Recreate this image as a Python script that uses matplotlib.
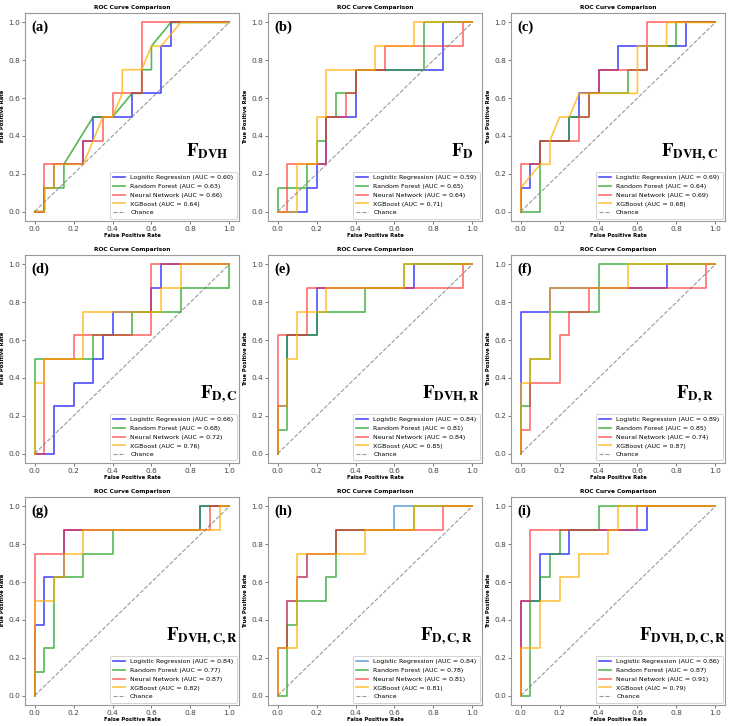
import matplotlib
matplotlib.use("Agg")
import matplotlib.pyplot as plt

plt.rcParams['mathtext.fontset'] = 'stix'

# ROC curves: (fpr, tpr) per model, per feature set
roc_a = {
    'lr': ([0, 0.05, 0.05, 0.1, 0.1, 0.25, 0.25, 0.3, 0.3, 0.5, 0.5, 0.65, 0.65, 0.7, 0.7, 1],
           [0, 0, 0.125, 0.125, 0.25, 0.25, 0.375, 0.375, 0.5, 0.5, 0.625, 0.625, 0.875, 0.875, 1, 1]),
    'rf': ([0, 0.05, 0.05, 0.15, 0.15, 0.3, 0.4, 0.5, 0.55, 0.55, 0.6, 0.6, 0.7, 1],
           [0, 0, 0.125, 0.125, 0.25, 0.5, 0.5, 0.625, 0.625, 0.75, 0.75, 0.875, 1, 1]),
    'nn': ([0, 0.05, 0.05, 0.25, 0.25, 0.35, 0.35, 0.4, 0.4, 0.55, 0.55, 1],
           [0, 0, 0.25, 0.25, 0.375, 0.375, 0.5, 0.5, 0.625, 0.625, 1, 1]),
    'xgb': ([0, 0.05, 0.05, 0.1, 0.1, 0.25, 0.35, 0.4, 0.45, 0.45, 0.55, 0.6, 0.65, 0.75, 1],
            [0, 0, 0.125, 0.125, 0.25, 0.25, 0.5, 0.5, 0.625, 0.75, 0.75, 0.875, 0.875, 1, 1]),
}
roc_b = {
    'lr': ([0, 0.15, 0.15, 0.2, 0.2, 0.25, 0.25, 0.4, 0.4, 0.85, 0.85, 1],
           [0, 0, 0.125, 0.125, 0.25, 0.25, 0.5, 0.5, 0.75, 0.75, 1, 1]),
    'rf': ([0, 0, 0.15, 0.15, 0.2, 0.2, 0.25, 0.25, 0.3, 0.3, 0.4, 0.4, 0.75, 0.75, 1],
           [0, 0.125, 0.125, 0.25, 0.25, 0.375, 0.375, 0.5, 0.5, 0.625, 0.625, 0.75, 0.75, 1, 1]),
    'nn': ([0, 0.05, 0.05, 0.25, 0.25, 0.35, 0.35, 0.4, 0.4, 0.55, 0.55, 0.95, 0.95, 1],
           [0, 0, 0.25, 0.25, 0.5, 0.5, 0.625, 0.625, 0.75, 0.75, 0.875, 0.875, 1, 1]),
    'xgb': ([0, 0.1, 0.1, 0.2, 0.2, 0.25, 0.25, 0.5, 0.5, 0.7, 0.7, 1],
            [0, 0, 0.25, 0.25, 0.5, 0.5, 0.75, 0.75, 0.875, 0.875, 1, 1]),
}
roc_c = {
    'lr': ([0, 0, 0.05, 0.05, 0.1, 0.1, 0.25, 0.25, 0.3, 0.3, 0.4, 0.4, 0.5, 0.5, 0.85, 0.85, 1],
           [0, 0.125, 0.125, 0.25, 0.25, 0.375, 0.375, 0.5, 0.5, 0.625, 0.625, 0.75, 0.75, 0.875, 0.875, 1, 1]),
    'rf': ([0, 0.1, 0.1, 0.25, 0.25, 0.35, 0.35, 0.55, 0.55, 0.65, 0.65, 0.8, 0.8, 1],
           [0, 0, 0.375, 0.375, 0.5, 0.5, 0.625, 0.625, 0.75, 0.75, 0.875, 0.875, 1, 1]),
    'nn': ([0, 0, 0.1, 0.1, 0.3, 0.3, 0.35, 0.35, 0.4, 0.4, 0.65, 0.65, 1],
           [0, 0.25, 0.25, 0.375, 0.375, 0.5, 0.5, 0.625, 0.625, 0.75, 0.75, 1, 1]),
    'xgb': ([0, 0, 0.1, 0.15, 0.15, 0.2, 0.25, 0.3, 0.6, 0.6, 0.75, 0.75, 1],
            [0, 0.125, 0.25, 0.25, 0.375, 0.5, 0.5, 0.625, 0.625, 0.875, 0.875, 1, 1]),
}
roc_d = {
    'lr': ([0, 0.1, 0.1, 0.2, 0.2, 0.3, 0.3, 0.35, 0.35, 0.4, 0.4, 0.6, 0.6, 0.65, 0.65, 1],
           [0, 0, 0.25, 0.25, 0.375, 0.375, 0.5, 0.5, 0.625, 0.625, 0.75, 0.75, 0.875, 0.875, 1, 1]),
    'rf': ([0, 0, 0.3, 0.3, 0.5, 0.5, 0.75, 0.75, 1, 1],
           [0, 0.5, 0.5, 0.625, 0.625, 0.75, 0.75, 0.875, 0.875, 1]),
    'nn': ([0, 0.05, 0.05, 0.2, 0.2, 0.6, 0.6, 1],
           [0, 0, 0.5, 0.5, 0.625, 0.625, 1, 1]),
    'xgb': ([0, 0, 0.05, 0.05, 0.25, 0.25, 0.65, 0.65, 0.75, 0.75, 1],
            [0, 0.375, 0.375, 0.5, 0.5, 0.75, 0.75, 0.875, 0.875, 1, 1]),
}
roc_e = {
    'lr': ([0, 0, 0.05, 0.05, 0.2, 0.2, 0.7, 0.7, 1],
           [0, 0.25, 0.25, 0.625, 0.625, 0.875, 0.875, 1, 1]),
    'rf': ([0, 0, 0.05, 0.05, 0.2, 0.2, 0.45, 0.45, 0.65, 0.65, 1],
           [0, 0.125, 0.125, 0.625, 0.625, 0.75, 0.75, 0.875, 0.875, 1, 1]),
    'nn': ([0, 0, 0.15, 0.15, 0.95, 0.95, 1],
           [0, 0.625, 0.625, 0.875, 0.875, 1, 1]),
    'xgb': ([0, 0, 0.05, 0.05, 0.1, 0.1, 0.25, 0.25, 0.65, 0.65, 1],
            [0, 0.25, 0.25, 0.5, 0.5, 0.75, 0.75, 0.875, 0.875, 1, 1]),
}
roc_f = {
    'lr': ([0, 0, 0.15, 0.15, 0.75, 0.75, 1],
           [0, 0.75, 0.75, 0.875, 0.875, 1, 1]),
    'rf': ([0, 0, 0.05, 0.05, 0.15, 0.15, 0.4, 0.4, 1],
           [0, 0.25, 0.25, 0.5, 0.5, 0.75, 0.75, 1, 1]),
    'nn': ([0, 0, 0.05, 0.05, 0.2, 0.2, 0.25, 0.25, 0.35, 0.35, 0.95, 0.95, 1],
           [0, 0.125, 0.125, 0.375, 0.375, 0.625, 0.625, 0.75, 0.75, 0.875, 0.875, 1, 1]),
    'xgb': ([0, 0, 0.05, 0.05, 0.15, 0.15, 0.55, 0.55, 1],
            [0, 0.375, 0.375, 0.5, 0.5, 0.875, 0.875, 1, 1]),
}
roc_g = {
    'lr': ([0, 0, 0.05, 0.05, 0.15, 0.15, 0.85, 0.85, 1],
           [0, 0.375, 0.375, 0.625, 0.625, 0.875, 0.875, 1, 1]),
    'rf': ([0, 0, 0.05, 0.05, 0.1, 0.1, 0.25, 0.25, 0.4, 0.4, 0.85, 0.85, 1],
           [0, 0.125, 0.125, 0.25, 0.25, 0.625, 0.625, 0.75, 0.75, 0.875, 0.875, 1, 1]),
    'nn': ([0, 0, 0.15, 0.15, 0.9, 0.9, 1],
           [0, 0.75, 0.75, 0.875, 0.875, 1, 1]),
    'xgb': ([0, 0, 0.1, 0.1, 0.15, 0.15, 0.25, 0.25, 0.95, 0.95, 1],
            [0, 0.5, 0.5, 0.625, 0.625, 0.75, 0.75, 0.875, 0.875, 1, 1]),
}
roc_h = {
    'lr': ([0, 0, 0.05, 0.05, 0.1, 0.1, 0.15, 0.15, 0.3, 0.3, 0.6, 0.6, 1],
           [0, 0.25, 0.25, 0.5, 0.5, 0.625, 0.625, 0.75, 0.75, 0.875, 0.875, 1, 1]),
    'rf': ([0, 0.05, 0.05, 0.1, 0.1, 0.25, 0.25, 0.3, 0.3, 0.7, 0.7, 1],
           [0, 0, 0.375, 0.375, 0.5, 0.5, 0.625, 0.625, 0.875, 0.875, 1, 1]),
    'nn': ([0, 0, 0.05, 0.05, 0.1, 0.1, 0.15, 0.15, 0.3, 0.3, 0.85, 0.85, 1],
           [0, 0.25, 0.25, 0.5, 0.5, 0.625, 0.625, 0.75, 0.75, 0.875, 0.875, 1, 1]),
    'xgb': ([0, 0, 0.1, 0.1, 0.45, 0.45, 0.7, 0.7, 1],
            [0, 0.25, 0.25, 0.75, 0.75, 0.875, 0.875, 1, 1]),
}
roc_i = {
    'lr': ([0, 0, 0.1, 0.1, 0.25, 0.25, 0.65, 0.65, 1],
           [0, 0.5, 0.5, 0.75, 0.75, 0.875, 0.875, 1, 1]),
    'rf': ([0, 0.05, 0.05, 0.1, 0.1, 0.15, 0.15, 0.2, 0.2, 0.4, 0.4, 1],
           [0, 0, 0.5, 0.5, 0.625, 0.625, 0.75, 0.75, 0.875, 0.875, 1, 1]),
    'nn': ([0, 0, 0.05, 0.05, 0.6, 0.6, 1],
           [0, 0.5, 0.5, 0.875, 0.875, 1, 1]),
    'xgb': ([0, 0, 0.1, 0.1, 0.2, 0.2, 0.3, 0.3, 0.45, 0.45, 0.5, 0.5, 1],
            [0, 0.25, 0.25, 0.5, 0.5, 0.625, 0.625, 0.75, 0.75, 0.875, 0.875, 1, 1]),
}

model_keys = ['lr', 'rf', 'nn', 'xgb']
model_names = ['Logistic Regression', 'Random Forest', 'Neural Network', 'XGBoost']

panels = [roc_a, roc_b, roc_c, roc_d, roc_e, roc_f, roc_g, roc_h, roc_i]
auc_a = [0.60, 0.63, 0.66, 0.64]
auc_b = [0.59, 0.65, 0.64, 0.71]
auc_c = [0.69, 0.64, 0.69, 0.68]
auc_d = [0.66, 0.68, 0.72, 0.76]
auc_e = [0.84, 0.81, 0.84, 0.85]
auc_f = [0.89, 0.85, 0.74, 0.87]
auc_g = [0.84, 0.77, 0.87, 0.82]
auc_h = [0.84, 0.78, 0.81, 0.81]
auc_i = [0.86, 0.87, 0.91, 0.79]
aucs = [auc_a, auc_b, auc_c, auc_d, auc_e, auc_f, auc_g, auc_h, auc_i]
letters = ['(a)', '(b)', '(c)', '(d)', '(e)', '(f)', '(g)', '(h)', '(i)']
feature_sets = ['DVH', 'D', 'DVH,C', 'D,C', 'DVH,R', 'D,R', 'DVH,C,R', 'D,C,R', 'DVH,D,C,R']

# where the big F label starts (axes fraction)
label_x = [0.75, 0.855, 0.70, 0.82, 0.72, 0.77, 0.66, 0.71, 0.60]

colors = ['#2020ff', '#2aa52a', '#ff3030', '#ffb000']
alphas = [0.8, 0.8, 0.7, 0.75]

W, H = 729, 726
fig = plt.figure(figsize=(W / 100, H / 100), dpi=100)

col_left = [25, 268, 511]
row_top = [13, 255, 497]
ax_w, ax_h = 214, 208

for k in range(9):
    r, c = divmod(k, 3)
    ax = fig.add_axes([col_left[c] / W, 1 - (row_top[r] + ax_h) / H, ax_w / W, ax_h / H])
    roc = panels[k]
    for j, key in enumerate(model_keys):
        fpr, tpr = roc[key]
        col = colors[j]
        if k == 7 and j == 0:
            col = '#4a90d9'
        ax.plot(fpr, tpr, color=col, lw=1.2, alpha=alphas[j],
                label=f'{model_names[j]} (AUC = {aucs[k][j]:.2f})')
    ax.plot([0, 1], [0, 1], color='gray', ls='--', lw=0.8, alpha=0.8, label='Chance')

    ax.set_title('ROC Curve Comparison', fontsize=4.2, fontweight='bold', pad=3)
    ax.set_xlabel('False Positive Rate', fontsize=3.8, fontweight='bold', labelpad=1)
    ax.set_ylabel('True Positive Rate', fontsize=3.8, fontweight='bold', labelpad=2)
    ax.set_xticks([0, 0.2, 0.4, 0.6, 0.8, 1.0])
    ax.set_yticks([0, 0.2, 0.4, 0.6, 0.8, 1.0])
    ax.tick_params(labelsize=5.3, length=2, width=0.5, pad=1.5, colors='#444444')
    for sp in ax.spines.values():
        sp.set_color('#999999')
        sp.set_linewidth(0.8)
    leg = ax.legend(loc='lower right', fontsize=4.5, handlelength=2.0,
                    labelspacing=0.55, borderpad=0.5, framealpha=1, borderaxespad=0.4)
    leg.get_frame().set_edgecolor('#cccccc')
    leg.get_frame().set_linewidth(0.6)

    ax.text(0.032, 0.965, letters[k], transform=ax.transAxes, ha='left', va='top',
            fontsize=10.5, fontweight='bold', family='Liberation Serif')
    ax.text(label_x[k], 0.31, r'$\mathbf{F_{%s}}$' % feature_sets[k], transform=ax.transAxes,
            ha='left', va='baseline', fontsize=13.5)

fig.savefig('out.png', dpi=100)
